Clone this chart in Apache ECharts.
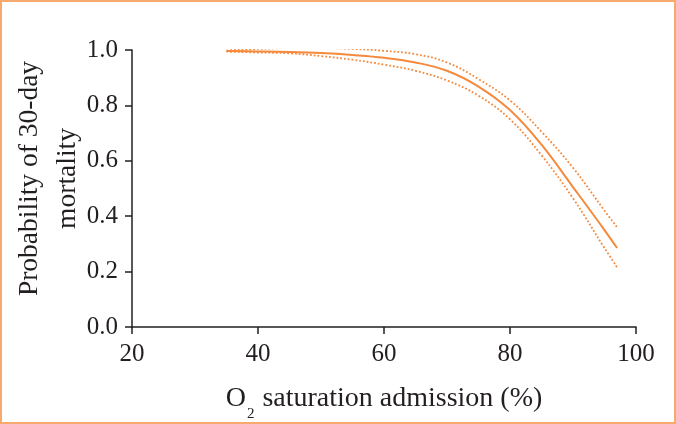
<!DOCTYPE html>
<html>
<head>
<meta charset="utf-8">
<script src="https://cdn.jsdelivr.net/npm/echarts@6/dist/echarts.min.js"></script>
<style>
  html, body { margin: 0; padding: 0; background: #fff; }
  #frame { width: 676px; height: 424px; box-sizing: border-box; border: 2px solid #f8a96e; }
  #chart { width: 672px; height: 420px; }
</style>
</head>
<body>
<div id="frame"><div id="chart"></div></div>
<script>
// O2 saturation at admission (%)
const satX = [35, 40, 45, 50, 55, 60, 65, 70, 75, 80, 85, 90, 95, 97];
// predicted probability of 30-day mortality and its confidence band
const probMean  = [0.996, 0.995, 0.993, 0.989, 0.982, 0.972, 0.955, 0.925, 0.868, 0.783, 0.658, 0.505, 0.350, 0.285];
const probUpper = [0.998, 1.004, 1.007, 1.007, 1.004, 0.997, 0.985, 0.955, 0.895, 0.818, 0.705, 0.575, 0.420, 0.360];
const probLower = [0.994, 0.991, 0.988, 0.978, 0.965, 0.947, 0.925, 0.890, 0.835, 0.750, 0.620, 0.465, 0.285, 0.215];

const xTicks = { min: 20, max: 100, step: 20 };
const yTicks = { min: 0, max: 1, step: 0.2 };

const orange = '#f5893c';
const ink = '#231f20';
const serif = '"Liberation Serif", "DejaVu Serif", serif';

const pairs = (ys) => satX.map((x, i) => [x, ys[i]]);

const lineSeries = (ys, dotted) => ({
  type: 'line',
  data: pairs(ys),
  showSymbol: false,
  smooth: 0.4,
  lineStyle: {
    color: orange,
    width: dotted ? 1.8 : 2,
    type: dotted ? [1.8, 2] : 'solid'
  },
  z: dotted ? 2 : 3
});

const chart = echarts.init(document.getElementById('chart'));
chart.setOption({
  animation: false,
  grid: { left: 130, right: 38, top: 48, bottom: 95, outerBoundsMode: 'none' },
  xAxis: {
    type: 'value',
    min: xTicks.min, max: xTicks.max, interval: xTicks.step,
    name: '{o|O}{s|2}{o| saturation admission (%)}',
    nameLocation: 'middle',
    nameMoveOverlap: false,
    nameGap: 49,
    nameTextStyle: {
      rich: {
        o: { fontFamily: serif, fontSize: 28, color: ink, lineHeight: 46 },
        s: { fontFamily: serif, fontSize: 15, color: ink, lineHeight: 15, padding: [31, 1, 0, 1] }
      }
    },
    axisLine: { lineStyle: { color: ink, width: 1.5 } },
    axisTick: { length: 7, lineStyle: { color: ink, width: 1.5 } },
    axisLabel: { margin: 15, fontFamily: serif, fontSize: 25, color: ink },
    splitLine: { show: false }
  },
  yAxis: {
    type: 'value',
    min: yTicks.min, max: yTicks.max, interval: yTicks.step,
    name: 'Probability of 30-day\nmortality',
    nameLocation: 'middle',
    nameMoveOverlap: false,
    nameGap: 45,
    nameTextStyle: { fontFamily: serif, fontSize: 27.5, color: ink, lineHeight: 38, padding: [0, 0, 0, 20] },
    axisLine: { show: true, lineStyle: { color: ink, width: 1.5 } },
    axisTick: { show: true, length: 7, lineStyle: { color: ink, width: 1.5 } },
    axisLabel: { margin: 14, fontFamily: serif, fontSize: 25, color: ink, formatter: (v) => v.toFixed(1) },
    splitLine: { show: false }
  },
  series: [
    lineSeries(probUpper, true),
    lineSeries(probLower, true),
    lineSeries(probMean, false)
  ]
});
</script>
</body>
</html>
